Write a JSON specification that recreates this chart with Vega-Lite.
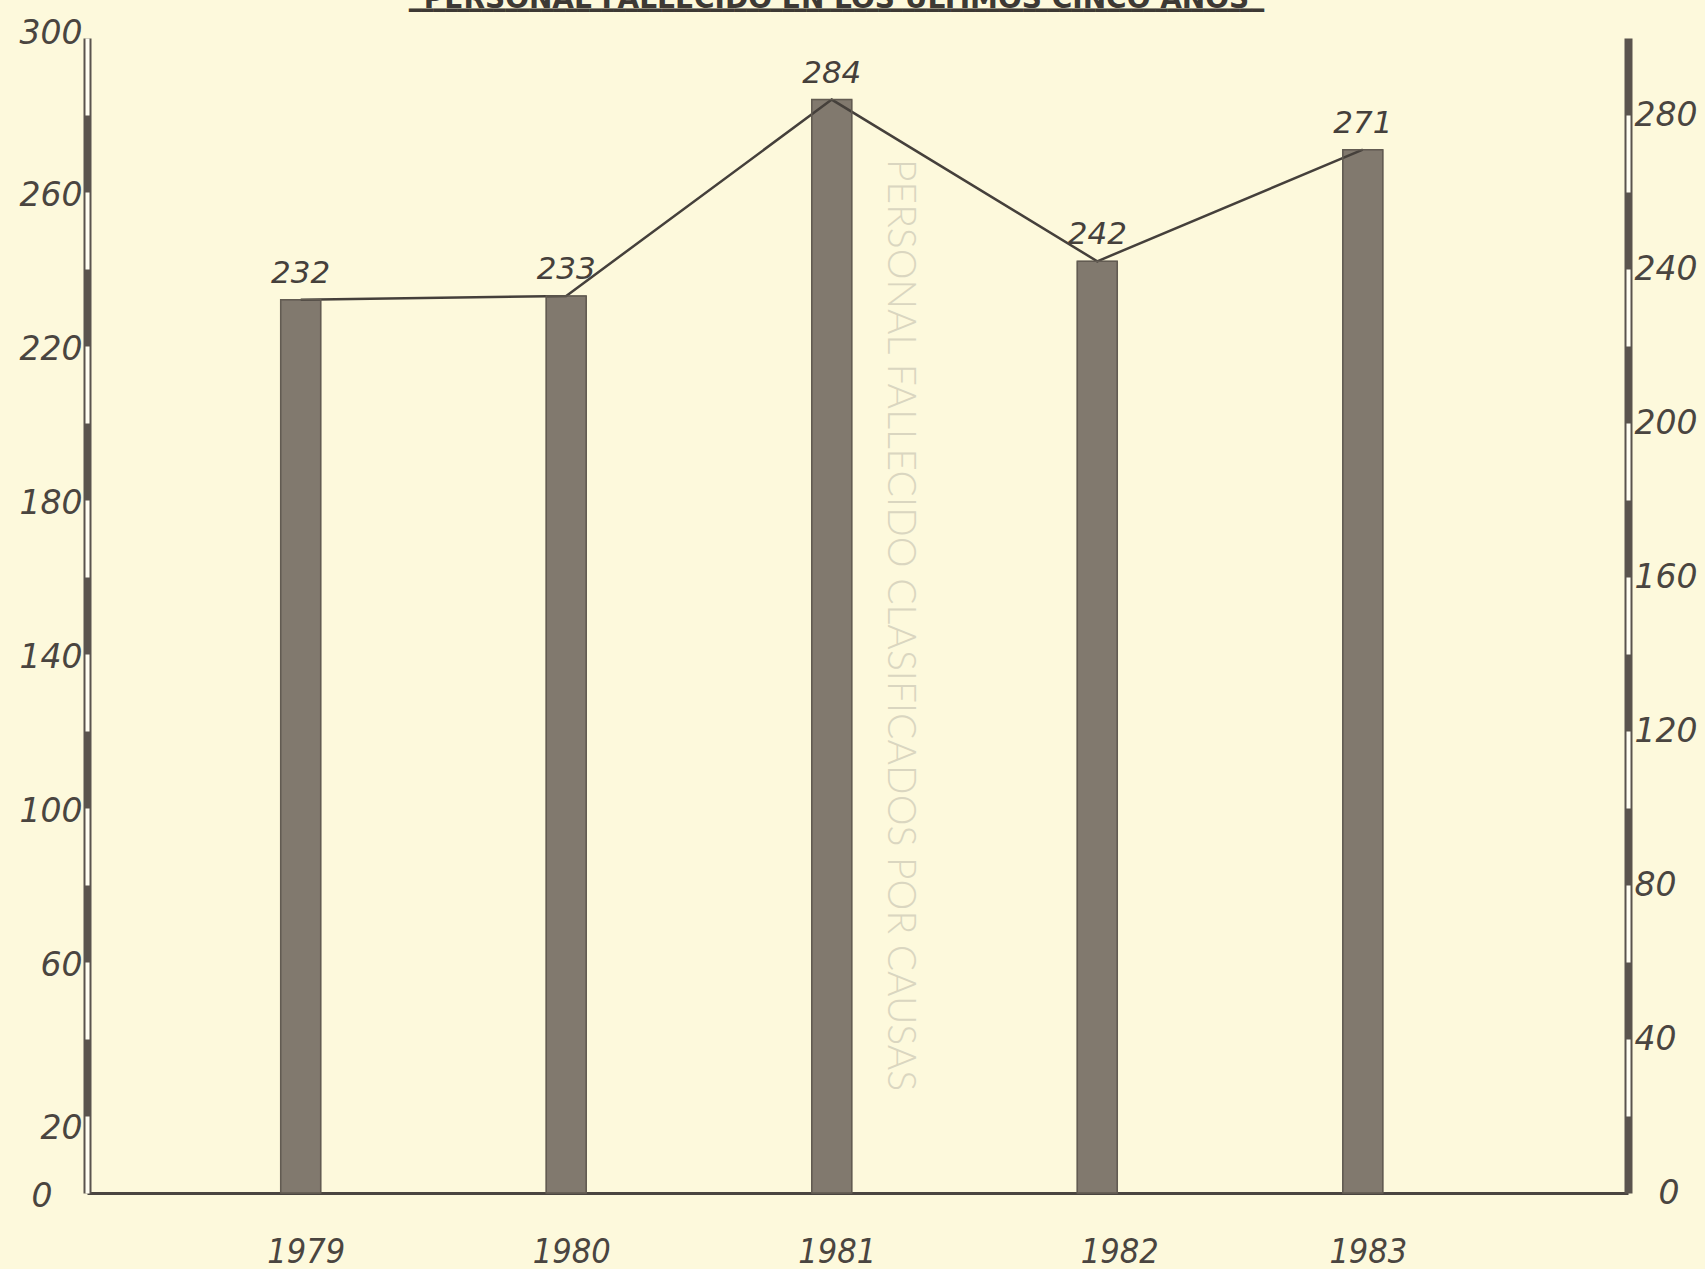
{
  "$schema": "https://vega.github.io/schema/vega-lite/v6.json",
  "width": 1541,
  "height": 1155,
  "autosize": {"type": "none"},
  "padding": {"left": 87, "right": 77, "top": 38, "bottom": 76},
  "background": "#fdf9dc",
  "title": {
    "text": "PERSONAL FALLECIDO EN LOS ULTIMOS CINCO AÑOS",
    "subtitle": "━━━━━━━━━━━━━━━━━━━━━━━━━━━━━━━━━━━━━━━━━━━━━━━━━━━━━━━━━━━━━━━━━━━━━━━",
    "frame": "group",
    "anchor": "middle",
    "offset": -4,
    "dx": -21,
    "font": "DejaVu Sans",
    "fontSize": 28,
    "fontWeight": "bold",
    "color": "#3d3934",
    "subtitleFont": "DejaVu Sans Mono",
    "subtitleFontSize": 20,
    "subtitleColor": "#3d3934",
    "subtitlePadding": -13
  },
  "data": {
    "values": [
      {"year": 1979, "count": 232},
      {"year": 1980, "count": 233},
      {"year": 1981, "count": 284},
      {"year": 1982, "count": 242},
      {"year": 1983, "count": 271}
    ]
  },
  "encoding": {
    "x": {
      "field": "year",
      "type": "quantitative",
      "scale": {"domain": [1978.214, 1983.98], "nice": false, "zero": false},
      "axis": {
        "title": null,
        "values": [1979, 1980, 1981, 1982, 1983],
        "format": "d",
        "domain": true,
        "domainColor": "#4a4540",
        "domainWidth": 3,
        "ticks": false,
        "grid": false,
        "labelPadding": 42,
        "labelFont": "DejaVu Sans Condensed, sans-serif",
        "labelFontSize": 34,
        "labelFontStyle": "italic",
        "labelColor": "#4a4540",
        "labelFlush": false,
        "labelOverlap": false,
        "labelOffset": {"condition": {"test": "datum.value === 1982", "value": 22}, "value": 5}
      }
    }
  },
  "layer": [
    {
      "mark": {"type": "text", "angle": 90, "dy": -68, "font": "Lato", "fontWeight": 300, "fontSize": 39, "fill": "#dad6c0"},
      "encoding": {
        "x": {"aggregate": "mean", "field": "year", "type": "quantitative"},
        "y": {"datum": 147.5, "type": "quantitative", "scale": {"domain": [0, 300], "nice": false}, "axis": null},
        "text": {"value": "PERSONAL FALLECIDO CLASIFICADOS POR CAUSAS"}
      }
    },
    {
      "mark": {"type": "bar", "size": 40, "fill": "#81796e", "stroke": "#6b645a", "strokeWidth": 1},
      "encoding": {
        "y": {
          "field": "count",
          "type": "quantitative",
          "scale": {"domain": [0, 300], "nice": false},
          "axis": {
            "orient": "left",
            "title": null,
            "values": [0, 20, 60, 100, 140, 180, 220, 260, 300],
            "domain": true,
            "domainColor": "#5a544e",
            "domainWidth": 8,
            "ticks": false,
            "grid": false,
            "labelFont": "DejaVu Sans",
            "labelFontSize": 33,
            "labelFontStyle": "italic",
            "labelColor": "#4a4540",
            "labelPadding": {"condition": {"test": "datum.value === 0", "value": 35}, "value": 5},
            "labelOffset": {"condition": [{"test": "datum.value === 300", "value": -5}, {"test": "datum.value === 20", "value": 12}], "value": 3},
            "labelOverlap": false,
            "labelBound": false,
            "zindex": 1
          }
        }
      }
    },
    {
      "mark": {"type": "line", "stroke": "#45403b", "strokeWidth": 2.5},
      "encoding": {
        "y": {
          "field": "count",
          "type": "quantitative",
          "scale": {"domain": [0, 300], "nice": false},
          "axis": {
            "orient": "left",
            "title": null,
            "labels": false,
            "ticks": false,
            "grid": false,
            "domain": true,
            "domainColor": "#fffef2",
            "domainWidth": 4,
            "domainDash": [77, 77],
            "zindex": 2
          }
        }
      }
    },
    {
      "mark": {"type": "text", "dy": -26, "font": "DejaVu Sans", "fontSize": 31, "fontStyle": "italic", "fill": "#45403b"},
      "encoding": {
        "y": {
          "field": "count",
          "type": "quantitative",
          "scale": {"domain": [0, 300], "nice": false},
          "axis": {
            "orient": "right",
            "title": null,
            "values": [0, 40, 80, 120, 160, 200, 240, 280],
            "domain": true,
            "domainColor": "#5a544e",
            "domainWidth": 8,
            "ticks": false,
            "grid": false,
            "labelAlign": "left",
            "labelFont": "DejaVu Sans",
            "labelFontSize": 33,
            "labelFontStyle": "italic",
            "labelColor": "#4a4540",
            "labelPadding": {"condition": {"test": "datum.value === 0", "value": 30}, "value": 6},
            "labelOverlap": false,
            "labelBound": false,
            "zindex": 1
          }
        },
        "text": {"field": "count", "type": "quantitative"}
      }
    },
    {
      "mark": {"type": "bar", "size": 40, "fill": null, "stroke": "#625b52", "strokeWidth": 1.5},
      "encoding": {
        "y": {
          "field": "count",
          "type": "quantitative",
          "scale": {"domain": [0, 300], "nice": false},
          "axis": {
            "orient": "right",
            "title": null,
            "labels": false,
            "ticks": false,
            "grid": false,
            "domain": true,
            "domainColor": "#fffef2",
            "domainWidth": 4,
            "domainDash": [77, 77],
            "domainDashOffset": 77,
            "zindex": 2
          }
        }
      }
    }
  ],
  "resolve": {"axis": {"y": "independent"}},
  "config": {"view": {"stroke": null}}
}
